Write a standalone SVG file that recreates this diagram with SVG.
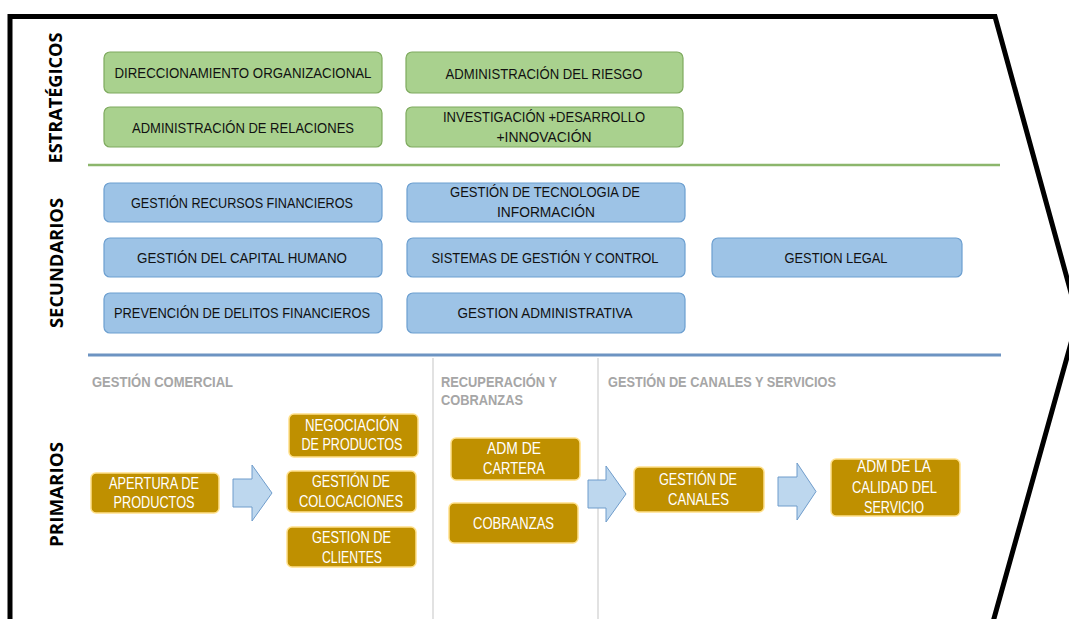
<svg xmlns="http://www.w3.org/2000/svg" width="1069" height="619" viewBox="0 0 1069 619">
  <defs>
    <style>
      .frame { fill: none; stroke: #000; stroke-width: 5; stroke-linejoin: miter; }
      .sep-green { stroke: #8cb66c; stroke-width: 2.5; }
      .sep-blue { stroke: #6d94c2; stroke-width: 3; }
      .sep-gray { stroke: #d9d9d9; stroke-width: 1.5; }
      .lane { font-family: "Open Sans", "Liberation Sans", sans-serif; font-weight: bold; font-size: 18px; fill: #000; }
      .green rect { fill: #a9d18e; stroke: #7eaa5e; stroke-width: 1.2; }
      .blue rect { fill: #9dc3e6; stroke: #6c9fd0; stroke-width: 1.2; }
      .gold rect { fill: #bf9000; stroke: #ffe08a; stroke-width: 1.5; }
      .txt { font-family: "Liberation Sans", Arial, sans-serif; font-size: 15px; fill: #111; text-anchor: middle; }
      .wtxt { font-family: "Liberation Sans", Arial, sans-serif; font-size: 16.5px; fill: #fff; text-anchor: middle; }
      .head { font-family: "Liberation Sans", Arial, sans-serif; font-weight: bold; font-size: 15px; fill: #a6a6a6; }
      .arrow { fill: #bdd7ee; stroke: #6f9ccb; stroke-width: 1; }
    </style>
  </defs>

  <rect width="1069" height="619" fill="#fff"/>

  <!-- chevron outline -->
  <path class="frame" d="M10,619 L10,16.5 L995,16.5 L1078,318 L993,622"/>

  <!-- band separators -->
  <line class="sep-green" x1="88" y1="165" x2="1000" y2="165"/>
  <line class="sep-blue" x1="88" y1="355" x2="1001" y2="355"/>
  <line class="sep-gray" x1="433" y1="358" x2="433" y2="619"/>
  <line class="sep-gray" x1="598" y1="358" x2="598" y2="619"/>

  <!-- band titles -->
  <text class="lane" transform="translate(62,98) rotate(-90)" text-anchor="middle" textLength="131" lengthAdjust="spacingAndGlyphs">ESTRATÉGICOS</text>
  <text class="lane" transform="translate(63,263) rotate(-90)" text-anchor="middle" textLength="130" lengthAdjust="spacingAndGlyphs">SECUNDARIOS</text>
  <text class="lane" transform="translate(63,494.5) rotate(-90)" text-anchor="middle" textLength="105" lengthAdjust="spacingAndGlyphs">PRIMARIOS</text>

  <!-- strategic processes -->
  <g id="direccionamiento" class="green">
    <rect x="104" y="52" width="278" height="41" rx="6"/>
    <text class="txt" x="243" y="78" textLength="257" lengthAdjust="spacingAndGlyphs">DIRECCIONAMIENTO ORGANIZACIONAL</text>
  </g>
  <g id="relaciones" class="green">
    <rect x="104" y="107" width="278" height="40" rx="6"/>
    <text class="txt" x="243" y="133" textLength="222" lengthAdjust="spacingAndGlyphs">ADMINISTRACIÓN DE RELACIONES</text>
  </g>
  <g id="riesgo" class="green">
    <rect x="406" y="52" width="277" height="41" rx="6"/>
    <text class="txt" x="544" y="79" textLength="197" lengthAdjust="spacingAndGlyphs">ADMINISTRACIÓN DEL RIESGO</text>
  </g>
  <g id="innovacion" class="green">
    <rect x="406" y="107" width="277" height="40" rx="6"/>
    <text class="txt" x="544" y="122" textLength="202" lengthAdjust="spacingAndGlyphs">INVESTIGACIÓN +DESARROLLO</text>
    <text class="txt" x="544" y="142" textLength="95" lengthAdjust="spacingAndGlyphs">+INNOVACIÓN</text>
  </g>

  <!-- support processes -->
  <g id="recursos-financieros" class="blue">
    <rect x="104" y="183" width="278" height="39" rx="6"/>
    <text class="txt" x="242" y="208" textLength="222" lengthAdjust="spacingAndGlyphs">GESTIÓN RECURSOS FINANCIEROS</text>
  </g>
  <g id="capital-humano" class="blue">
    <rect x="104" y="238" width="278" height="39" rx="6"/>
    <text class="txt" x="242" y="263" textLength="210" lengthAdjust="spacingAndGlyphs">GESTIÓN DEL CAPITAL HUMANO</text>
  </g>
  <g id="prevencion-delitos" class="blue">
    <rect x="104" y="293" width="278" height="40" rx="6"/>
    <text class="txt" x="242" y="318" textLength="256" lengthAdjust="spacingAndGlyphs">PREVENCIÓN DE DELITOS FINANCIEROS</text>
  </g>
  <g id="tecnologia" class="blue">
    <rect x="407" y="183" width="278" height="39" rx="6"/>
    <text class="txt" x="545" y="197" textLength="190" lengthAdjust="spacingAndGlyphs">GESTIÓN DE TECNOLOGIA DE</text>
    <text class="txt" x="546" y="217" textLength="98" lengthAdjust="spacingAndGlyphs">INFORMACIÓN</text>
  </g>
  <g id="sistemas-gestion" class="blue">
    <rect x="407" y="238" width="278" height="39" rx="6"/>
    <text class="txt" x="545" y="263" textLength="227" lengthAdjust="spacingAndGlyphs">SISTEMAS DE GESTIÓN Y CONTROL</text>
  </g>
  <g id="administrativa" class="blue">
    <rect x="407" y="293" width="278" height="40" rx="6"/>
    <text class="txt" x="545" y="318" textLength="175" lengthAdjust="spacingAndGlyphs">GESTION ADMINISTRATIVA</text>
  </g>
  <g id="legal" class="blue">
    <rect x="712" y="238" width="250" height="39" rx="6"/>
    <text class="txt" x="836" y="263" textLength="103" lengthAdjust="spacingAndGlyphs">GESTION LEGAL</text>
  </g>

  <!-- primary process headings -->
  <text class="head" x="92" y="387" textLength="141" lengthAdjust="spacingAndGlyphs">GESTIÓN COMERCIAL</text>
  <text class="head" x="441" y="387" textLength="116" lengthAdjust="spacingAndGlyphs">RECUPERACIÓN Y</text>
  <text class="head" x="441" y="405" textLength="82" lengthAdjust="spacingAndGlyphs">COBRANZAS</text>
  <text class="head" x="608" y="387" textLength="228" lengthAdjust="spacingAndGlyphs">GESTIÓN DE CANALES Y SERVICIOS</text>

  <!-- primary processes -->
  <g id="apertura" class="gold">
    <rect x="91" y="473" width="128" height="40" rx="5"/>
    <text class="wtxt" x="154" y="489" textLength="90" lengthAdjust="spacingAndGlyphs">APERTURA DE</text>
    <text class="wtxt" x="154" y="508" textLength="81" lengthAdjust="spacingAndGlyphs">PRODUCTOS</text>
  </g>
  <g id="negociacion" class="gold">
    <rect x="289" y="414" width="129" height="43" rx="5"/>
    <text class="wtxt" x="352" y="431" textLength="94" lengthAdjust="spacingAndGlyphs">NEGOCIACIÓN</text>
    <text class="wtxt" x="352" y="450" textLength="101" lengthAdjust="spacingAndGlyphs">DE PRODUCTOS</text>
  </g>
  <g id="colocaciones" class="gold">
    <rect x="287" y="471" width="129" height="41" rx="5"/>
    <text class="wtxt" x="351" y="487" textLength="78" lengthAdjust="spacingAndGlyphs">GESTIÓN DE</text>
    <text class="wtxt" x="351" y="507" textLength="104" lengthAdjust="spacingAndGlyphs">COLOCACIONES</text>
  </g>
  <g id="clientes" class="gold">
    <rect x="287" y="527" width="129" height="40" rx="5"/>
    <text class="wtxt" x="351.5" y="543" textLength="79" lengthAdjust="spacingAndGlyphs">GESTION DE</text>
    <text class="wtxt" x="352" y="563" textLength="60" lengthAdjust="spacingAndGlyphs">CLIENTES</text>
  </g>
  <g id="cartera" class="gold">
    <rect x="451" y="438" width="129" height="42" rx="5"/>
    <text class="wtxt" x="514" y="454" textLength="54" lengthAdjust="spacingAndGlyphs">ADM DE</text>
    <text class="wtxt" x="514" y="474" textLength="62" lengthAdjust="spacingAndGlyphs">CARTERA</text>
  </g>
  <g id="cobranzas" class="gold">
    <rect x="449" y="503" width="129" height="40" rx="5"/>
    <text class="wtxt" x="513.5" y="529" textLength="81" lengthAdjust="spacingAndGlyphs">COBRANZAS</text>
  </g>
  <g id="canales" class="gold">
    <rect x="634" y="467" width="130" height="45" rx="5"/>
    <text class="wtxt" x="698" y="485" textLength="78" lengthAdjust="spacingAndGlyphs">GESTIÓN DE</text>
    <text class="wtxt" x="698.5" y="505" textLength="61" lengthAdjust="spacingAndGlyphs">CANALES</text>
  </g>
  <g id="calidad-servicio" class="gold">
    <rect x="831" y="459" width="129" height="57" rx="5"/>
    <text class="wtxt" x="894" y="472" textLength="74" lengthAdjust="spacingAndGlyphs">ADM DE LA</text>
    <text class="wtxt" x="894.5" y="493" textLength="85" lengthAdjust="spacingAndGlyphs">CALIDAD DEL</text>
    <text class="wtxt" x="894" y="513" textLength="60" lengthAdjust="spacingAndGlyphs">SERVICIO</text>
  </g>

  <!-- flow arrows -->
  <g id="connectors">
    <path class="arrow" d="M233,479 L252,479 L252,465 L272,493 L252,521 L252,507 L233,507 Z"/>
    <path class="arrow" d="M588,480 L606,480 L606,466 L626,494 L606,522 L606,508 L588,508 Z"/>
    <path class="arrow" d="M778,477 L797,477 L797,463 L816,491.5 L797,520 L797,506 L778,506 Z"/>
  </g>
</svg>
